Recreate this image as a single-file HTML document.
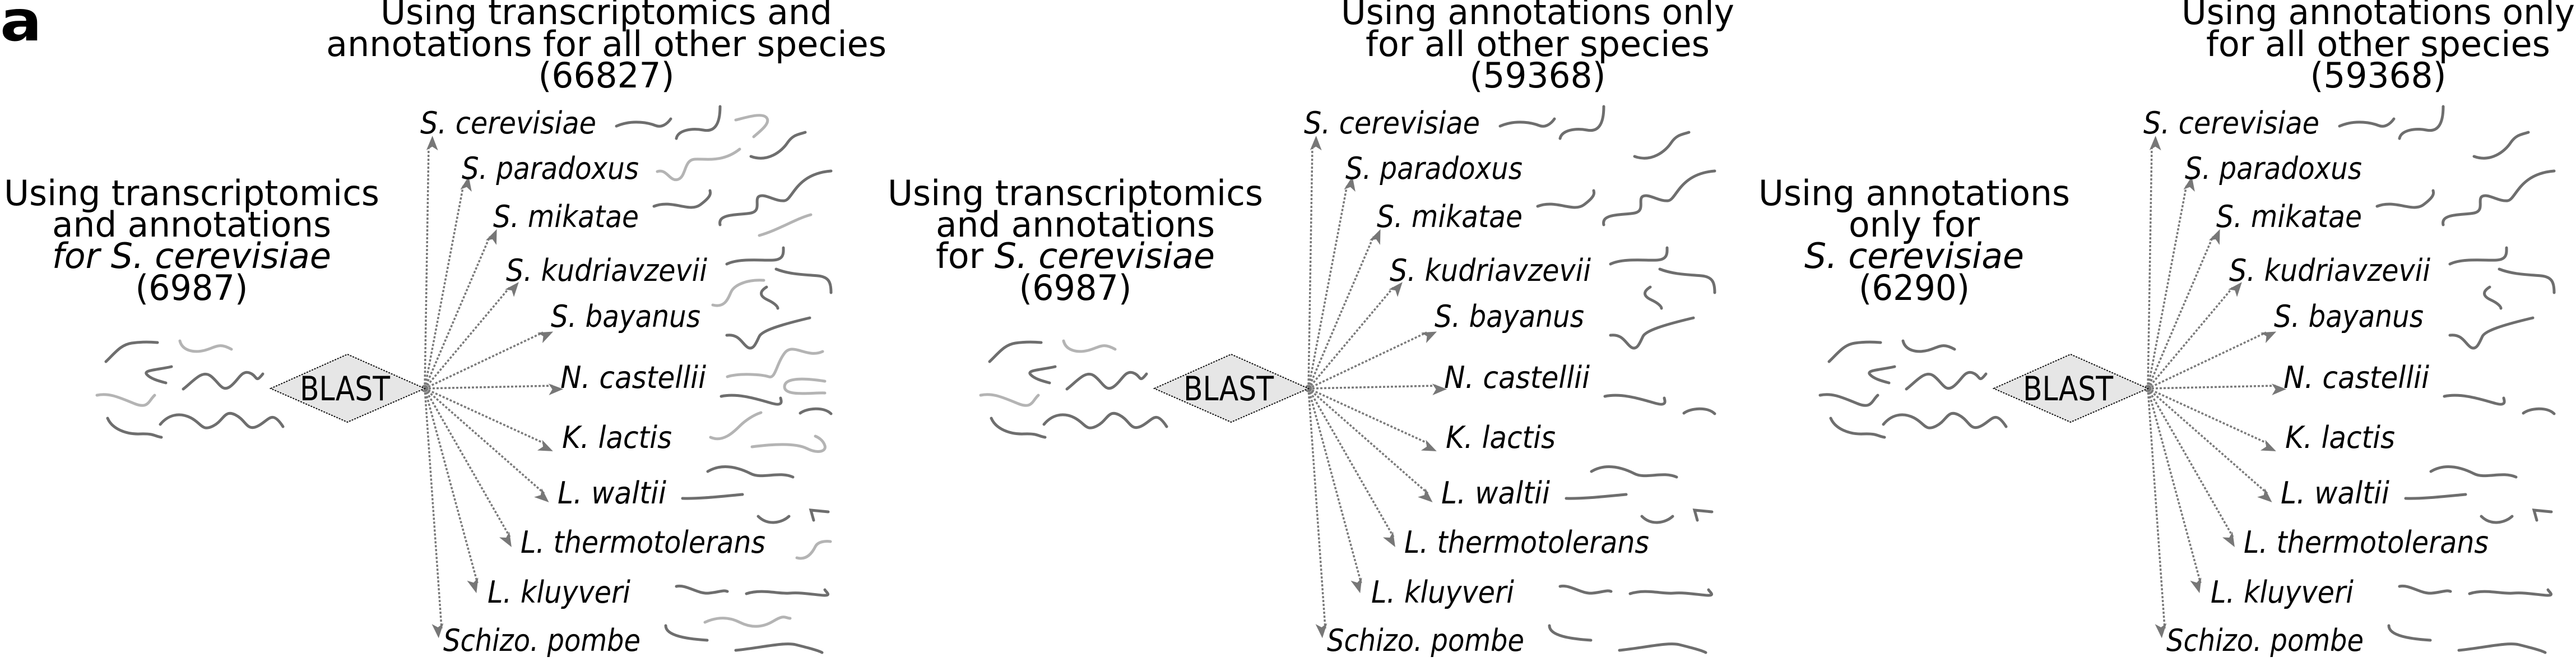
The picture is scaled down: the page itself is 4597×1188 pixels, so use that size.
<!DOCTYPE html>
<html><head><meta charset="utf-8"><style>
html,body{margin:0;padding:0;background:#fff;}
svg{display:block;}
text{font-family:"DejaVu Sans","Liberation Sans",sans-serif;fill:#000;}
.t{font-size:62px;}
.sp{font-size:54px;font-style:italic;}
.it{font-style:italic;}
.d{fill:none;stroke:#6e6e6e;stroke-width:5;stroke-linecap:round;}
.l{fill:none;stroke:#b4b4b4;stroke-width:5;stroke-linecap:round;}
.ar{fill:none;stroke:#7a7a7a;stroke-width:3.5;stroke-dasharray:4 3;}
</style></head><body>
<svg width="4597" height="1188" viewBox="0 0 4597 1188" xmlns="http://www.w3.org/2000/svg">
<defs>
<marker id="ah" markerWidth="10" markerHeight="8" refX="9" refY="4" orient="auto" markerUnits="userSpaceOnUse" viewBox="0 0 10 8" style="overflow:visible">
<path d="M0 0 L10 4 L0 8 L2.5 4 Z" fill="#777" transform="scale(2.6)"/>
</marker>
<g id="arrows">
<path class="ar" marker-end="url(#ah)" d="M758 693 L765 259"/>
<path class="ar" marker-end="url(#ah)" d="M758 693 L827 330"/>
<path class="ar" marker-end="url(#ah)" d="M758 693 L874 422"/>
<path class="ar" marker-end="url(#ah)" d="M758 693 L910 512"/>
<path class="ar" marker-end="url(#ah)" d="M758 693 L969 593"/>
<path class="ar" marker-end="url(#ah)" d="M758 693 L988 688"/>
<path class="ar" marker-end="url(#ah)" d="M758 693 L974 792"/>
<path class="ar" marker-end="url(#ah)" d="M758 693 L971 880"/>
<path class="ar" marker-end="url(#ah)" d="M758 693 L910 958"/>
<path class="ar" marker-end="url(#ah)" d="M758 693 L852 1040"/>
<path class="ar" marker-end="url(#ah)" d="M758 693 L788 1121"/>
<circle cx="758" cy="693" r="5" fill="none" stroke="#777" stroke-width="3"/>
<path d="M483 693 L620 632 L758 693 L620 753 Z" fill="#e6e6e6" stroke="#111" stroke-width="2" stroke-dasharray="3 2"/>
</g>
<g id="rdark" class="d">
<path d="M1100 225 C1130 212 1160 220 1170 224 S1190 222 1197 212"/>
<path d="M1207 247 C1210 232 1235 228 1255 232 S1285 222 1285 190"/>
<path d="M1340 279 C1370 290 1395 270 1405 255 S1425 240 1437 236"/>
<path d="M1285 401 C1280 380 1320 384 1340 380 S1345 355 1355 350 S1385 360 1400 358 S1420 310 1483 305"/>
<path d="M1167 368 C1200 355 1230 380 1250 365 S1268 345 1267 340"/>
<path d="M1297 471 C1320 460 1360 465 1380 464 S1398 450 1398 442"/>
<path d="M1385 480 C1410 490 1440 490 1460 492 S1483 505 1483 522"/>
<path d="M1368 512 C1355 520 1355 528 1370 535 S1388 548 1388 550"/>
<path d="M1297 598 C1320 595 1325 615 1335 620 S1350 610 1355 600 S1390 580 1445 567"/>
<path d="M1287 707 C1320 700 1360 715 1380 720 S1393 712 1393 710"/>
<path d="M1428 737 C1440 728 1470 725 1483 738"/>
<path d="M1263 841 C1290 825 1320 835 1340 845 S1390 840 1415 851"/>
<path d="M1218 889 C1250 890 1290 885 1325 882"/>
<path d="M1353 921 C1370 938 1395 933 1408 921"/>
<path d="M1452 928 L1447 910 L1478 913"/>
<path d="M1207 1046 C1225 1042 1245 1060 1265 1058 S1290 1052 1298 1055"/>
<path d="M1332 1059 C1360 1050 1390 1060 1410 1058 S1460 1062 1472 1062 S1473 1055 1472 1052"/>
<path d="M1188 1116 C1188 1135 1230 1140 1262 1142"/>
<path d="M1313 1160 C1360 1155 1400 1145 1420 1150 S1460 1160 1467 1164"/>
</g>
<g id="rlight" class="l">
<path d="M1313 214 C1330 210 1360 200 1368 210 S1355 235 1345 244"/>
<path d="M1173 306 C1190 300 1195 325 1210 320 S1220 285 1240 284 S1290 290 1320 266"/>
<path d="M1355 420 C1390 410 1420 390 1447 383"/>
<path d="M1272 544 C1295 550 1300 530 1305 520 S1330 498 1363 500"/>
<path d="M1298 672 C1320 665 1360 668 1372 672 S1385 650 1400 630 S1440 640 1468 627"/>
<path d="M1472 680 C1440 675 1400 672 1400 690 S1450 700 1472 701"/>
<path d="M1268 780 C1290 790 1310 770 1320 760 S1345 740 1358 736"/>
<path d="M1342 797 C1380 792 1420 790 1440 800 S1475 805 1472 795 S1460 780 1455 778"/>
<path d="M1422 995 C1440 1000 1450 985 1455 975 S1475 965 1482 966"/>
<path d="M1258 1110 C1280 1100 1300 1100 1320 1110 S1360 1120 1380 1108 S1400 1102 1410 1103"/>
</g>
<g id="ldark">
<path d="M189 645 C205 630 215 615 235 612 S270 610 281 611"/>
<path d="M306 654 C280 660 255 660 262 668 S285 680 296 683"/>
<path d="M327 694 C345 680 360 660 375 670 S395 700 410 690 S430 660 445 665 S455 685 469 667"/>
<path d="M192 746 C200 765 225 775 250 774 S275 778 288 780"/>
<path d="M286 757 C300 740 320 735 340 745 S360 770 380 760 S400 730 420 740 S440 770 460 760 S485 730 505 761"/>
</g>
<g id="llight">
<path d="M321 608 C325 625 345 630 365 625 S390 610 413 623"/>
<path d="M173 705 C195 700 215 710 240 720 S265 715 276 705"/>
</g>
</defs>

<!-- Panel 1 -->
<text x="0" y="72" style="font-size:100px;font-weight:bold" textLength="75" lengthAdjust="spacingAndGlyphs">a</text>
<use href="#arrows"/>
<use href="#rdark"/>
<use href="#rlight"/>
<use href="#ldark" class="d"/>
<use href="#llight" class="l"/>
<text class="t" x="1082" y="43" text-anchor="middle" textLength="806" lengthAdjust="spacingAndGlyphs">Using transcriptomics and</text>
<text class="t" x="1082" y="100" text-anchor="middle" textLength="1000" lengthAdjust="spacingAndGlyphs">annotations for all other species</text>
<text class="t" x="1082" y="156" text-anchor="middle" textLength="243" lengthAdjust="spacingAndGlyphs">(66827)</text>
<text class="t" x="342" y="366" text-anchor="middle" textLength="670" lengthAdjust="spacingAndGlyphs">Using transcriptomics</text>
<text class="t" x="342" y="422" text-anchor="middle" textLength="498" lengthAdjust="spacingAndGlyphs">and annotations</text>
<text class="t it" x="342" y="478" text-anchor="middle" textLength="498" lengthAdjust="spacingAndGlyphs">for S. cerevisiae</text>
<text class="t" x="342" y="535" text-anchor="middle" textLength="201" lengthAdjust="spacingAndGlyphs">(6987)</text>
<text x="535" y="714" style="font-size:60px" textLength="161" lengthAdjust="spacingAndGlyphs">BLAST</text>
<g class="sp">
<text x="750" y="238" textLength="314" lengthAdjust="spacingAndGlyphs">S. cerevisiae</text>
<text x="824" y="319" textLength="316" lengthAdjust="spacingAndGlyphs">S. paradoxus</text>
<text x="880" y="405" textLength="260" lengthAdjust="spacingAndGlyphs">S. mikatae</text>
<text x="903" y="501" textLength="359" lengthAdjust="spacingAndGlyphs">S. kudriavzevii</text>
<text x="983" y="583" textLength="267" lengthAdjust="spacingAndGlyphs">S. bayanus</text>
<text x="1000" y="692" textLength="260" lengthAdjust="spacingAndGlyphs">N. castellii</text>
<text x="1003" y="799" textLength="196" lengthAdjust="spacingAndGlyphs">K. lactis</text>
<text x="995" y="898" textLength="194" lengthAdjust="spacingAndGlyphs">L. waltii</text>
<text x="929" y="986" textLength="437" lengthAdjust="spacingAndGlyphs">L. thermotolerans</text>
<text x="870" y="1075" textLength="255" lengthAdjust="spacingAndGlyphs">L. kluyveri</text>
<text x="791" y="1161" textLength="352" lengthAdjust="spacingAndGlyphs">Schizo. pombe</text>
</g>

<!-- Panel 2 -->
<g transform="translate(1577,0)">
<use href="#arrows"/>
<use href="#rdark"/>
<use href="#ldark" class="d"/>
<use href="#llight" class="l"/>
<text class="t" x="1167" y="43" text-anchor="middle" textLength="702" lengthAdjust="spacingAndGlyphs">Using annotations only</text>
<text class="t" x="1167" y="100" text-anchor="middle" textLength="614" lengthAdjust="spacingAndGlyphs">for all other species</text>
<text class="t" x="1167" y="156" text-anchor="middle" textLength="243" lengthAdjust="spacingAndGlyphs">(59368)</text>
<text class="t" x="342" y="366" text-anchor="middle" textLength="670" lengthAdjust="spacingAndGlyphs">Using transcriptomics</text>
<text class="t" x="342" y="422" text-anchor="middle" textLength="498" lengthAdjust="spacingAndGlyphs">and annotations</text>
<text class="t" x="342" y="478" text-anchor="middle" textLength="498" lengthAdjust="spacingAndGlyphs">for <tspan class="it">S. cerevisiae</tspan></text>
<text class="t" x="342" y="535" text-anchor="middle" textLength="201" lengthAdjust="spacingAndGlyphs">(6987)</text>
<text x="535" y="714" style="font-size:60px" textLength="161" lengthAdjust="spacingAndGlyphs">BLAST</text>
<g class="sp">
<text x="750" y="238" textLength="314" lengthAdjust="spacingAndGlyphs">S. cerevisiae</text>
<text x="824" y="319" textLength="316" lengthAdjust="spacingAndGlyphs">S. paradoxus</text>
<text x="880" y="405" textLength="260" lengthAdjust="spacingAndGlyphs">S. mikatae</text>
<text x="903" y="501" textLength="359" lengthAdjust="spacingAndGlyphs">S. kudriavzevii</text>
<text x="983" y="583" textLength="267" lengthAdjust="spacingAndGlyphs">S. bayanus</text>
<text x="1000" y="692" textLength="260" lengthAdjust="spacingAndGlyphs">N. castellii</text>
<text x="1003" y="799" textLength="196" lengthAdjust="spacingAndGlyphs">K. lactis</text>
<text x="995" y="898" textLength="194" lengthAdjust="spacingAndGlyphs">L. waltii</text>
<text x="929" y="986" textLength="437" lengthAdjust="spacingAndGlyphs">L. thermotolerans</text>
<text x="870" y="1075" textLength="255" lengthAdjust="spacingAndGlyphs">L. kluyveri</text>
<text x="791" y="1161" textLength="352" lengthAdjust="spacingAndGlyphs">Schizo. pombe</text>
</g>
</g>

<!-- Panel 3 -->
<g transform="translate(3075,0)">
<use href="#arrows"/>
<use href="#rdark"/>
<use href="#ldark" class="d"/>
<use href="#llight" class="d"/>
<text class="t" x="1169" y="43" text-anchor="middle" textLength="702" lengthAdjust="spacingAndGlyphs">Using annotations only</text>
<text class="t" x="1169" y="100" text-anchor="middle" textLength="614" lengthAdjust="spacingAndGlyphs">for all other species</text>
<text class="t" x="1169" y="156" text-anchor="middle" textLength="243" lengthAdjust="spacingAndGlyphs">(59368)</text>
<text class="t" x="341" y="366" text-anchor="middle" textLength="556" lengthAdjust="spacingAndGlyphs">Using annotations</text>
<text class="t" x="341" y="422" text-anchor="middle" textLength="234" lengthAdjust="spacingAndGlyphs">only for</text>
<text class="t it" x="341" y="478" text-anchor="middle" textLength="392" lengthAdjust="spacingAndGlyphs">S. cerevisiae</text>
<text class="t" x="341" y="535" text-anchor="middle" textLength="198" lengthAdjust="spacingAndGlyphs">(6290)</text>
<text x="535" y="714" style="font-size:60px" textLength="161" lengthAdjust="spacingAndGlyphs">BLAST</text>
<g class="sp">
<text x="750" y="238" textLength="314" lengthAdjust="spacingAndGlyphs">S. cerevisiae</text>
<text x="824" y="319" textLength="316" lengthAdjust="spacingAndGlyphs">S. paradoxus</text>
<text x="880" y="405" textLength="260" lengthAdjust="spacingAndGlyphs">S. mikatae</text>
<text x="903" y="501" textLength="359" lengthAdjust="spacingAndGlyphs">S. kudriavzevii</text>
<text x="983" y="583" textLength="267" lengthAdjust="spacingAndGlyphs">S. bayanus</text>
<text x="1000" y="692" textLength="260" lengthAdjust="spacingAndGlyphs">N. castellii</text>
<text x="1003" y="799" textLength="196" lengthAdjust="spacingAndGlyphs">K. lactis</text>
<text x="995" y="898" textLength="194" lengthAdjust="spacingAndGlyphs">L. waltii</text>
<text x="929" y="986" textLength="437" lengthAdjust="spacingAndGlyphs">L. thermotolerans</text>
<text x="870" y="1075" textLength="255" lengthAdjust="spacingAndGlyphs">L. kluyveri</text>
<text x="791" y="1161" textLength="352" lengthAdjust="spacingAndGlyphs">Schizo. pombe</text>
</g>
</g>
</svg>
</body></html>
